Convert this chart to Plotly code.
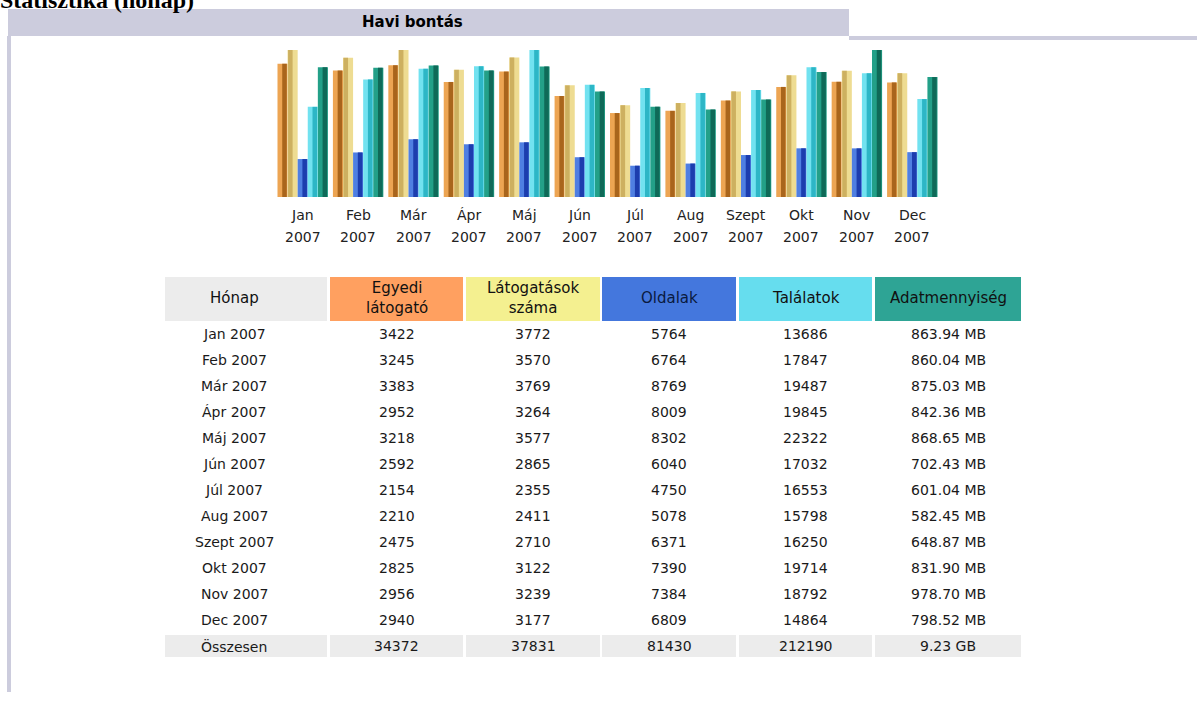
import plotly.graph_objects as go

W, H = 1197, 702

# ---------------- data ----------------
months = ["Jan", "Feb", "Már", "Ápr", "Máj", "Jún", "Júl", "Aug", "Szept", "Okt", "Nov", "Dec"]
year = "2007"
visitors = [3422, 3245, 3383, 2952, 3218, 2592, 2154, 2210, 2475, 2825, 2956, 2940]
visits = [3772, 3570, 3769, 3264, 3577, 2865, 2355, 2411, 2710, 3122, 3239, 3177]
pages = [5764, 6764, 8769, 8009, 8302, 6040, 4750, 5078, 6371, 7390, 7384, 6809]
hits = [13686, 17847, 19487, 19845, 22322, 17032, 16553, 15798, 16250, 19714, 18792, 14864]
bandwidth_mb = [863.94, 860.04, 875.03, 842.36, 868.65, 702.43, 601.04, 582.45, 648.87, 831.90, 978.70, 798.52]
totals = ["34372", "37831", "81430", "212190", "9.23 GB"]
total_label = "Összesen"
headers = ["Hónap", "Egyedi<br>látogató", "Látogatások<br>száma", "Oldalak", "Találatok", "Adatmennyiség"]
page_title = "Statisztika (hónap)"
section_title = "Havi bontás"

# ---------------- helpers ----------------
def px(x):
    return x / W

def py(y):
    return 1 - y / H

FONT = "DejaVu Sans, Verdana, sans-serif"

fig = go.Figure()

x_idx = list(range(len(months)))
bw = 0.182
series = [
    (visitors, "y", "#EDA553", "#A9651C", "right"),
    (visits, "y", "#EEDC92", "#CDB060", "left"),
    (pages, "y2", "#4F7FE2", "#1C3DAE", "right"),
    (hits, "y2", "#72E2F0", "#2DB6C6", "right"),
    (bandwidth_mb, "y3", "#23A088", "#0F6A58", "right"),
]
for i, (vals, yax, light, dark, side) in enumerate(series):
    off = -0.455 + i * bw
    fig.add_trace(go.Bar(x=x_idx, y=vals, yaxis=yax, width=bw, offset=off,
                         marker=dict(color=light, line=dict(width=0)),
                         showlegend=False, hoverinfo="skip"))
    sw = bw * 0.45
    soff = off + bw - sw - bw * 0.08 if side == "right" else off + bw * 0.05
    fig.add_trace(go.Bar(x=x_idx, y=vals, yaxis=yax, width=sw, offset=soff,
                         marker=dict(color=dark, line=dict(width=0)),
                         showlegend=False, hoverinfo="skip"))

ydom = [py(197), py(50)]
fig.update_layout(
    width=W, height=H,
    margin=dict(l=0, r=0, t=0, b=0),
    paper_bgcolor="white", plot_bgcolor="white",
    barmode="overlay",
    xaxis=dict(domain=[px(275), px(940)], range=[-0.5, len(months) - 0.5],
               showticklabels=False, showgrid=False, zeroline=False, showline=False, ticks=""),
    yaxis=dict(domain=ydom, range=[0, max(visits)], visible=False, fixedrange=True),
    yaxis2=dict(domain=ydom, range=[0, max(hits)], overlaying="y", visible=False),
    yaxis3=dict(domain=ydom, range=[0, max(bandwidth_mb)], overlaying="y", visible=False),
)

shapes = []
annotations = []

def rect(x0, y0, x1, y1, color):
    shapes.append(dict(type="rect", xref="paper", yref="paper", layer="below",
                       x0=px(x0), x1=px(x1), y0=py(y1), y1=py(y0),
                       fillcolor=color, line=dict(width=0)))

def text(x, y, s, size=14, color="#1A1A1A", family=FONT, xanchor="center", yanchor="middle", xref="paper"):
    annotations.append(dict(x=px(x) if xref == "paper" else x, y=py(y), xref=xref, yref="paper", text=s,
                            showarrow=False, xanchor=xanchor, yanchor=yanchor,
                            font=dict(family=family, size=size, color=color)))

# month labels under the bars (positioned on the category axis)
for i, m in enumerate(months):
    text(i, 215, m, size=14, color="#222222", xref="x")
    text(i, 237, year, size=14, color="#222222", xref="x")

# page frame
rect(8, 9, 849, 36, "#CCCCDD")
rect(849, 36, W, 40, "#CCCCDD")
rect(7, 36, 11, 692, "#CCCCDD")
text(-2, 15, f"<b>{page_title}</b>", size=24, color="#000000",
     family="Liberation Serif, Times New Roman, serif", xanchor="left", yanchor="bottom")
text(412, 22, f"<b>{section_title}</b>", size=15, color="#000000")

# table
col_edges = [(165, 327), (330, 463), (466, 600), (602, 736), (739, 872), (875, 1021)]
text_cx = [234, 396.5, 533, 669, 805.5, 948]
head_colors = ["#ECECEC", "#FFA060", "#F4F090", "#4477DD", "#66DDEE", "#2EA495"]
head_text = ["#111111", "#111111", "#111111", "#0A1A40", "#111111", "#111111"]
for (x0, x1), cx, c, tc, h in zip(col_edges, text_cx, head_colors, head_text, headers):
    rect(x0, 277, x1, 321, c)
    text(cx, 298, h, size=15, color=tc)

row0, step = 334, 26
cols = [
    [f"{m} {year}" for m in months],
    [str(v) for v in visitors],
    [str(v) for v in visits],
    [str(v) for v in pages],
    [str(v) for v in hits],
    [f"{v:.2f} MB" for v in bandwidth_mb],
]
for cx, vals in zip(text_cx, cols):
    for ri, v in enumerate(vals):
        text(cx, row0 + ri * step, v)
ty = row0 + len(months) * step
for (x0, x1), cx, v in zip(col_edges, text_cx, [total_label] + totals):
    rect(x0, ty - 11, x1, ty + 11, "#ECECEC")
    text(cx, ty, v)

fig.update_layout(shapes=shapes, annotations=annotations)
fig.write_html("out.html", config={"displayModeBar": False},
               post_script="document.body.style.margin='0';")
